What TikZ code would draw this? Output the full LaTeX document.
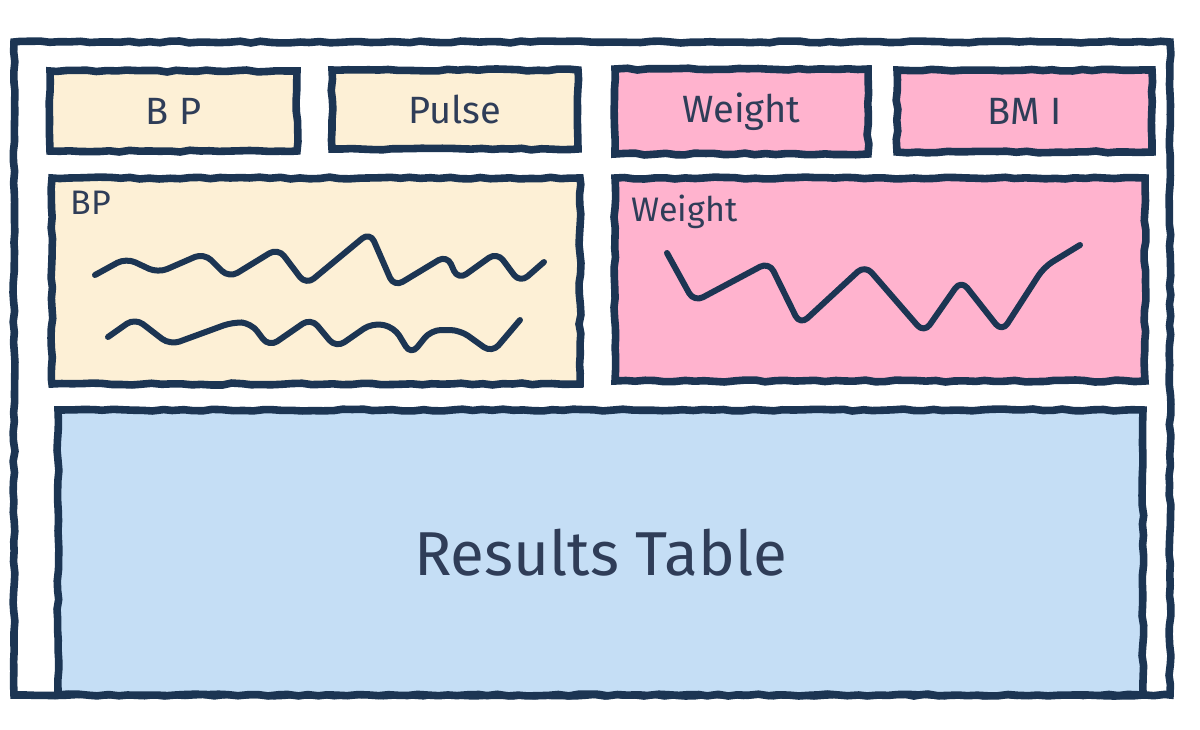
\documentclass[tikz,border=0pt]{standalone}
\usepackage{fontspec}
\setmainfont{Fira Sans}
\usepackage{xcolor}
\usepackage{tikz}
\usetikzlibrary{positioning, decorations.pathmorphing}
\definecolor{ink}{HTML}{1C3553}
\definecolor{pen}{HTML}{2F3D58}
\definecolor{cream}{HTML}{FDF0D6}
\definecolor{rose}{HTML}{FFB3CE}
\definecolor{sky}{HTML}{C5DEF5}
\tikzset{
  rough/.style={decorate, decoration={random steps, segment length=5pt, amplitude=0.5pt}},
  panel/.style={rectangle, rough, draw=ink, line width=3.8pt, inner sep=0pt,
                text=pen, font=\fontsize{19}{22}\selectfont},
  tilecream/.style={panel, fill=cream},
  tilerose/.style={panel, fill=rose},
  tablebox/.style={panel, fill=sky, font=\fontsize{31}{36}\selectfont},
  chartlabel/.style={text=pen, inner sep=0pt, font=\fontsize{17}{20}\selectfont},
  trend/.style={draw=ink, line width=3pt, rounded corners=5pt, line join=round, line cap=round},
}
\pgfmathsetseed{11}
\begin{document}
\begin{tikzpicture}[x=0.5pt, y=-0.5pt]
  \useasboundingbox (0,0) rectangle (1200,729);

  % Outer frame
  \node[panel, fill=white, minimum width=578pt, minimum height=326.5pt] (frame) at (592,368.5) {};

  % Top tiles
  \node[tilecream, minimum width=123.5pt, minimum height=40pt] (bpTile) at (173.5,111) {B P};
  \node[tilecream, minimum width=123pt, minimum height=39.5pt] (pulseTile) at (455,109.5) {Pulse};
  \node[tilerose, minimum width=126.5pt, minimum height=42.5pt] (weightTile) at (741.5,111.5) {Weight};
  \node[tilerose, minimum width=127.5pt, minimum height=41pt] (bmiTile) at (1024.5,111) {BM I};

  % Charts
  \node[tilecream, minimum width=264pt, minimum height=103pt] (bpChart) at (316,281) {};
  \node[chartlabel, below right=8pt and 11pt of bpChart.north west] (bpLabel) {BP};
  \draw[trend] plot coordinates {(95,275) (126,258) (158,273) (204,253) (229,278) (278,248)
    (306,285) (370,232) (394,287) (447,255) (458,280) (497,252) (520,283) (544,262)};
  \draw[trend] plot coordinates {(108,337) (135,318) (170,345) (233,322) (251,323) (269,347)
    (311,318) (336,348) (372,323) (394,327) (411,355) (431,330) (460,330) (492,353) (520,320)};

  \node[tilerose, minimum width=265pt, minimum height=101.5pt] (weightChart) at (880,279.5) {};
  \node[chartlabel, below right=10pt and 10pt of weightChart.north west] (weightLabel) {Weight};
  \draw[trend] plot coordinates {(667,253) (694,302) (769,262) (800,325) (865,265)
    (924,333) (961,280) (1002,332) (1044,267) (1080,245)};

  % Results
  \node[tablebox, minimum width=542.5pt, minimum height=142.5pt] (results) at (600.5,552.5) {Results Table};
\end{tikzpicture}
\end{document}
